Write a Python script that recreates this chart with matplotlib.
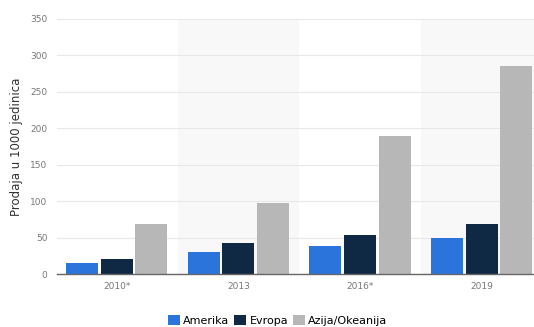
import numpy as np
import matplotlib.pyplot as plt

# categories and series (sales in thousands of units)
years = ["2010*", "2013", "2016*", "2019"]
amerika = [15, 30, 38, 49]
evropa = [20, 42, 54, 68]
azija = [69, 97, 190, 285]

series = [("Amerika", amerika, "#2a74dc"),
          ("Evropa", evropa, "#0f2944"),
          ("Azija/Okeanija", azija, "#b7b7b7")]

fig = plt.figure(figsize=(5.34, 3.27), dpi=100)
ax = fig.add_axes([0.107, 0.162, 0.893, 0.780])

x = np.arange(len(years))
width = 0.263
offset = 0.284

# alternate shaded bands behind every second group
for i in x:
    if i % 2 == 1:
        ax.axvspan(i - 0.5, i + 0.5, color="#f8f8f8", zorder=0, lw=0)

for k, (name, vals, col) in enumerate(series):
    ax.bar(x + (k - 1) * offset, vals, width, color=col, label=name, zorder=3)

ax.set_xlim(-0.49, 3.43)
ax.set_ylim(0, 350)
ax.set_yticks(range(0, 351, 50))
ax.set_xticks(x)
ax.set_xticklabels(years)

ax.grid(axis="y", color="#e8e8e8", lw=0.8, zorder=1)
for s in ["top", "right", "left"]:
    ax.spines[s].set_visible(False)
ax.spines["bottom"].set_color("#666666")
ax.spines["bottom"].set_linewidth(1.0)
ax.spines["bottom"].set_zorder(4)
ax.tick_params(length=0, labelsize=6.5, labelcolor="#777777")
ax.tick_params(axis="x", pad=6)
ax.tick_params(axis="y", pad=7)

ax.set_ylabel("Prodaja u 1000 jedinica", fontsize=8.5, color="#333333", labelpad=5)

fig.legend(loc="lower center", bbox_to_anchor=(0.52, -0.026), ncol=3, frameon=False,
           fontsize=8, handlelength=1.1, handleheight=1.0, handletextpad=0.3,
           columnspacing=0.4)

fig.savefig("out.png", dpi=100)
